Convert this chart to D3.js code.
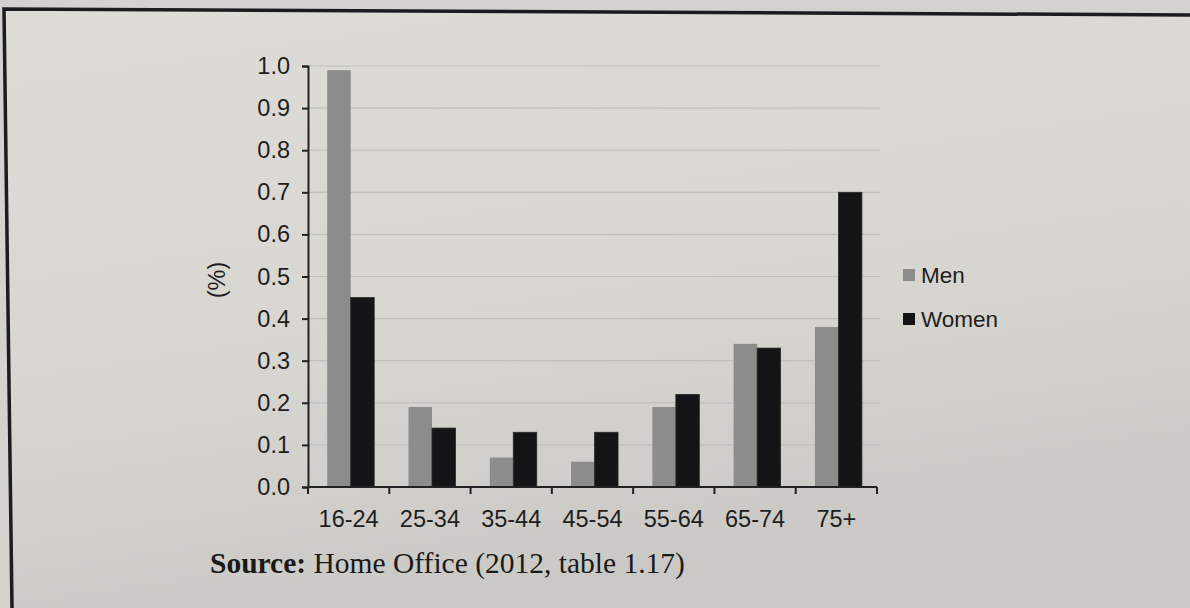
<!DOCTYPE html>
<html>
<head>
<meta charset="utf-8">
<script src="https://cdn.jsdelivr.net/npm/d3@7"></script>
<style>
  html, body { margin: 0; padding: 0; background: #cfceca; }
  svg { display: block; }
</style>
</head>
<body>
<svg id="chart" width="1190" height="608"></svg>
<script>
// Age groups along the x axis
const ageGroups = ["16-24", "25-34", "35-44", "45-54", "55-64", "65-74", "75+"];
// Series names
const seriesNames = ["Men", "Women"];
// Percentages per age group
const menValues   = [0.99, 0.19, 0.07, 0.06, 0.19, 0.34, 0.38];
const womenValues = [0.45, 0.14, 0.13, 0.13, 0.22, 0.33, 0.70];
// Y axis ticks
const yTicks = [0.0, 0.1, 0.2, 0.3, 0.4, 0.5, 0.6, 0.7, 0.8, 0.9, 1.0];

(function () {
  const colors = { Men: "#8c8c8a", Women: "#141416" };
  const rows = ageGroups.map((g, i) => ({ group: g, Men: menValues[i], Women: womenValues[i] }));

  const svg = d3.select("#chart");
  const W = 1190, H = 608;

  // Page background with a soft gradient and a dark frame along the top and left
  const defs = svg.append("defs");
  const grad = defs.append("linearGradient").attr("id", "pageGrad")
    .attr("x1", "0").attr("y1", "0").attr("x2", "0.3").attr("y2", "1");
  grad.append("stop").attr("offset", "0").attr("stop-color", "#dddcd7");
  grad.append("stop").attr("offset", "0.6").attr("stop-color", "#d7d6d1");
  grad.append("stop").attr("offset", "1").attr("stop-color", "#cac9c5");

  svg.append("rect").attr("width", W).attr("height", H).attr("fill", "#d3d2ce");
  svg.append("path")
    .attr("d", "M4,9 L1190,15 L1190,608 L12,608 Z")
    .attr("fill", "url(#pageGrad)");
  svg.append("path")
    .attr("d", "M12,608 L4,9 L1190,15")
    .attr("fill", "none")
    .attr("stroke", "#1b1b20")
    .attr("stroke-width", 3.5);

  // Plot area
  const plotLeft = 308, plotRight = 877, plotTop = 66, plotBottom = 487;

  const x0 = d3.scaleBand().domain(ageGroups).range([plotLeft, plotRight]).paddingInner(0).paddingOuter(0);
  const x1 = d3.scaleBand().domain(seriesNames).range([0, x0.bandwidth()])
    .paddingInner(0).paddingOuter(0.73).align(0.56);
  const y = d3.scaleLinear().domain([0, 1.0]).range([plotBottom, plotTop]);

  const font = "'Liberation Sans', Arial, sans-serif";
  const fs = 23.5;

  // Horizontal gridlines
  svg.append("g")
    .selectAll("line")
    .data(yTicks.filter(t => t > 0))
    .join("line")
    .attr("x1", plotLeft).attr("x2", plotRight + 3)
    .attr("y1", d => y(d)).attr("y2", d => y(d))
    .attr("stroke", "#c0bfbb")
    .attr("stroke-width", 1.2);

  // Bars
  const groups = svg.append("g")
    .selectAll("g")
    .data(rows)
    .join("g")
    .attr("transform", d => `translate(${x0(d.group)},0)`);

  groups.selectAll("rect")
    .data(d => seriesNames.map(s => ({ s, v: d[s] })))
    .join("rect")
    .attr("x", d => x1(d.s))
    .attr("y", d => y(d.v))
    .attr("width", x1.bandwidth())
    .attr("height", d => y(0) - y(d.v))
    .attr("fill", d => colors[d.s])
    .attr("stroke", d => d.s === "Women" ? "#2a2a2a" : "none")
    .attr("stroke-width", 0.8);

  // Y axis
  const yAxis = svg.append("g")
    .attr("transform", `translate(${plotLeft},0)`)
    .call(d3.axisLeft(y).tickValues(yTicks).tickFormat(d3.format(".1f")).tickSize(6).tickPadding(12));
  yAxis.select(".domain").attr("stroke", "#222").attr("stroke-width", 2);
  yAxis.selectAll(".tick line").attr("stroke", "#222").attr("stroke-width", 2);
  yAxis.selectAll(".tick text")
    .attr("font-family", font).attr("font-size", fs).attr("fill", "#1e1e1e");

  // X axis: ticks at category boundaries, labels centred in each band
  const xAxisG = svg.append("g").attr("transform", `translate(0,${plotBottom})`);
  xAxisG.append("line")
    .attr("x1", plotLeft).attr("x2", plotRight)
    .attr("stroke", "#222").attr("stroke-width", 2);
  const boundaries = ageGroups.map(g => x0(g)).concat([x0(ageGroups[ageGroups.length - 1]) + x0.bandwidth()]);
  xAxisG.selectAll("line.tk")
    .data(boundaries)
    .join("line")
    .attr("class", "tk")
    .attr("x1", d => d).attr("x2", d => d)
    .attr("y1", 0).attr("y2", 7)
    .attr("stroke", "#222").attr("stroke-width", 2);
  xAxisG.selectAll("text")
    .data(ageGroups)
    .join("text")
    .attr("x", d => x0(d) + x0.bandwidth() / 2)
    .attr("y", 40)
    .attr("text-anchor", "middle")
    .attr("font-family", font).attr("font-size", fs).attr("fill", "#1e1e1e")
    .text(d => d);

  // Y axis title
  svg.append("text")
    .attr("transform", "translate(225,280) rotate(-90)")
    .attr("text-anchor", "middle")
    .attr("font-family", font).attr("font-size", fs).attr("fill", "#1e1e1e")
    .text("(%)");

  // Legend
  const legend = svg.append("g").attr("transform", "translate(903,269)");
  const li = legend.selectAll("g")
    .data(seriesNames)
    .join("g")
    .attr("transform", (d, i) => `translate(0,${i * 44})`);
  li.append("rect").attr("width", 12).attr("height", 12).attr("fill", d => colors[d]);
  li.append("text")
    .attr("x", 18).attr("y", 6).attr("dy", "0.36em")
    .attr("font-family", font).attr("font-size", 22.5).attr("fill", "#1e1e1e")
    .text(d => d);

  // Source note
  const src = svg.append("text")
    .attr("x", 210).attr("y", 573)
    .attr("font-family", "'Liberation Serif', 'Times New Roman', serif")
    .attr("font-size", 29.5).attr("fill", "#1a1a1a");
  src.append("tspan").attr("font-weight", "bold").text("Source:");
  src.append("tspan").text(" Home Office (2012, table 1.17)");
})();
</script>
</body>
</html>
